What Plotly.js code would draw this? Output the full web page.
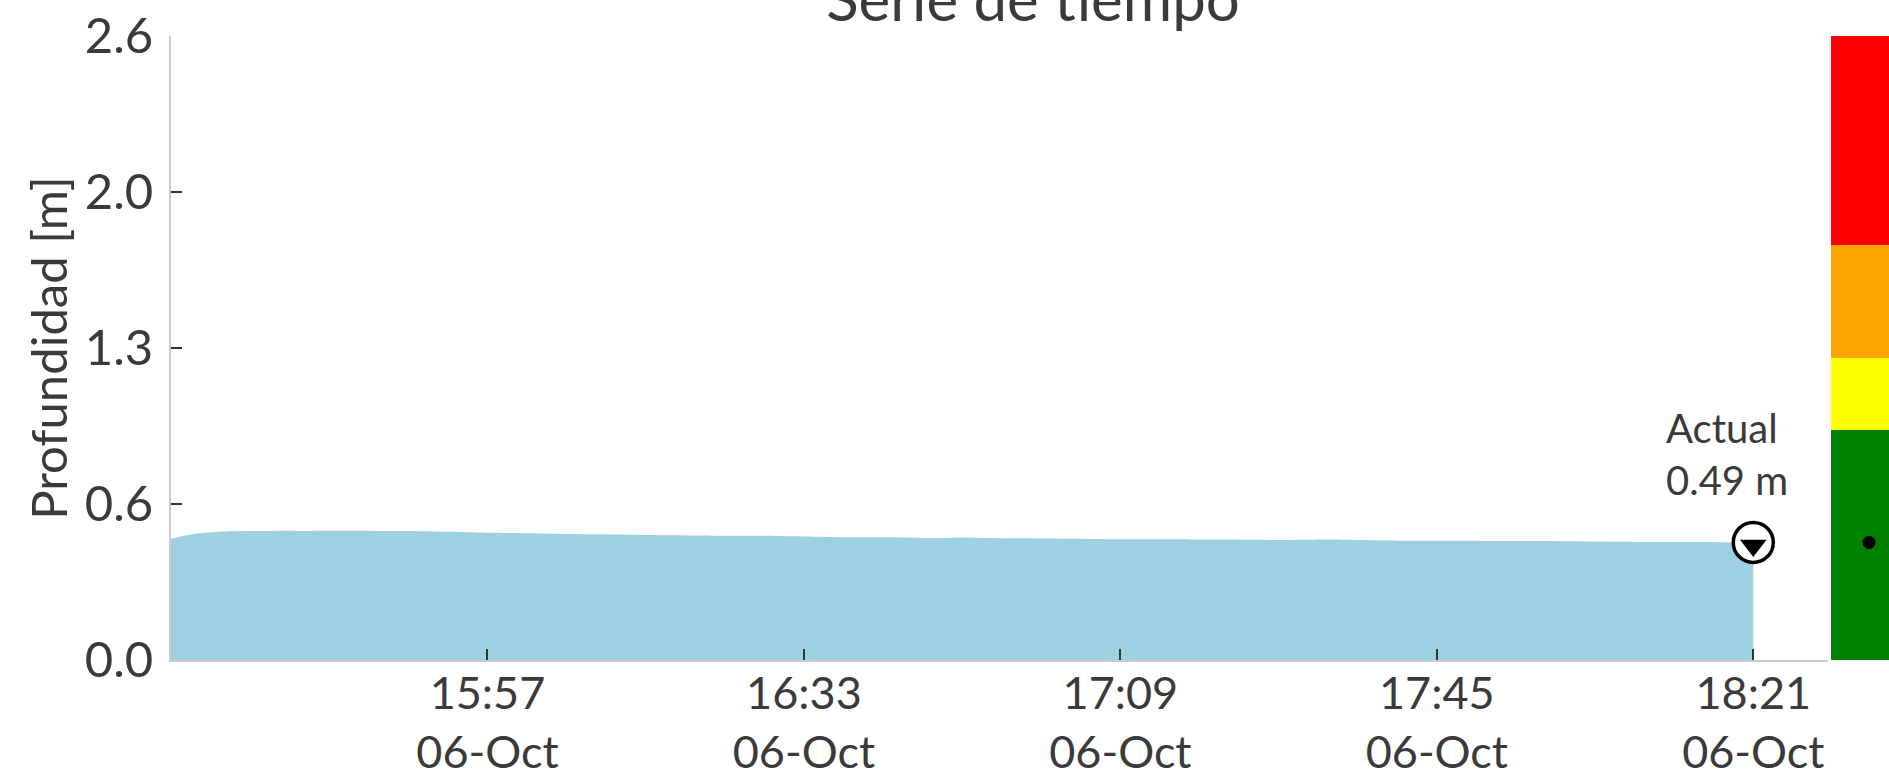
<!DOCTYPE html>
<html>
<head>
<meta charset="utf-8">
<script src="https://cdn.plot.ly/plotly-3.0.1.min.js"></script>
<style>
html,body{margin:0;padding:0;background:#fff;overflow:hidden;}
#chart{width:1889px;height:781px;}
</style>
</head>
<body>
<div id="chart"></div>
<script>
// ---- data ----
const day = '2023-10-06';
const times = ['15:21','15:23','15:25','15:27','15:30','15:33','15:36','15:39','15:42','15:45','15:48','15:51','15:54',
  '15:57','16:00','16:03','16:06','16:09','16:12','16:15','16:18','16:21','16:24','16:27','16:30',
  '16:33','16:36','16:39','16:42','16:45','16:48','16:51','16:54','16:57','17:00','17:03','17:06',
  '17:09','17:12','17:15','17:18','17:21','17:24','17:27','17:30','17:33','17:36','17:39','17:42',
  '17:45','17:48','17:51','17:54','17:57','18:00','18:03','18:06','18:09','18:12','18:15','18:18','18:21'];
const depth = [0.505,0.522,0.530,0.535,0.537,0.538,0.538,0.539,0.539,0.538,0.537,0.535,0.533,
  0.530,0.529,0.527,0.525,0.524,0.523,0.521,0.520,0.519,0.518,0.518,0.517,
  0.515,0.513,0.511,0.511,0.510,0.507,0.510,0.508,0.507,0.506,0.505,0.504,
  0.503,0.503,0.503,0.502,0.502,0.501,0.500,0.501,0.502,0.500,0.498,0.497,
  0.497,0.497,0.496,0.496,0.496,0.495,0.494,0.493,0.492,0.492,0.492,0.491,0.490];
const currentTime = '18:21';
const currentDepth = 0.49;
const levelNames = ['Normal','Precaución','Alerta','Peligro'];
const levelTops = [0.96, 1.26, 1.73, 2.6];
const levelColors = ['#008000','#ffff00','#ffa500','#ff0000'];
const yTickVals = [0, 0.65, 1.3, 1.95, 2.6];
const yTickText = ['0.0','0.6','1.3','2.0','2.6'];
const xTickTimes = ['15:57','16:33','17:09','17:45','18:21'];
const xTickDate = '06-Oct';
const xRange = ['15:21:00','18:29:30'];

// ---- build ----
const ts = t => day + ' ' + (t.length === 5 ? t + ':00' : t);
const FONT = 'Lato, "Open Sans", sans-serif';
const TXT = '#3a3a3a';

const traces = [];
traces.push({
  x: times.map(ts), y: depth, type: 'scatter', mode: 'lines',
  fill: 'tozeroy', fillcolor: '#9dd0e0', line: {width: 0, color: '#9dd0e0', shape: 'spline', smoothing: 0.6},
  xaxis: 'x', yaxis: 'y', hoverinfo: 'skip'
});
traces.push({
  x: [ts(currentTime)], y: [currentDepth], type: 'scatter', mode: 'markers',
  marker: {symbol: 'circle', size: 40, color: '#ffffff', line: {color: '#000', width: 3.5}},
  xaxis: 'x', yaxis: 'y', cliponaxis: false, hoverinfo: 'skip'
});
traces.push({
  x: [ts(currentTime)], y: [currentDepth - 0.013], type: 'scatter', mode: 'markers',
  marker: {symbol: 'triangle-down', size: 23, color: '#000', line: {width: 0}},
  xaxis: 'x', yaxis: 'y', cliponaxis: false, hoverinfo: 'skip'
});
let prev = 0;
levelTops.forEach((top, i) => {
  traces.push({
    x: [0], y: [top - prev], type: 'bar', name: levelNames[i],
    marker: {color: levelColors[i], line: {width: 0}},
    xaxis: 'x2', yaxis: 'y', width: 1, hoverinfo: 'skip'
  });
  prev = top;
});
traces.push({
  x: [0], y: [currentDepth], type: 'scatter', mode: 'markers',
  marker: {symbol: 'circle', size: 13, color: '#000'},
  xaxis: 'x2', yaxis: 'y', hoverinfo: 'skip'
});

const L = 171, W = 1889;
const pw = W - L;
const layout = {
  width: 1889, height: 781,
  margin: {l: L, r: 0, t: 36, b: 121, pad: 0},
  paper_bgcolor: '#fff', plot_bgcolor: '#fff',
  showlegend: false, barmode: 'stack', bargap: 0,
  font: {family: FONT, color: TXT, size: 46},
  title: {text: 'Serie de tiempo', font: {family: FONT, size: 60, color: TXT},
    x: (1033 - L) / pw, xref: 'paper', xanchor: 'center', y: 1, yref: 'container', yanchor: 'middle'},
  xaxis: {
    type: 'date', domain: [0, (1828 - L) / pw],
    range: xRange.map(ts),
    tickvals: xTickTimes.map(ts),
    ticktext: xTickTimes.map(t => t + '<br>' + xTickDate),
    ticks: 'inside', ticklen: 11, tickwidth: 2, tickcolor: '#333',
    showline: true, linecolor: '#cccccc', linewidth: 2,
    showgrid: false, zeroline: false, ticklabelstandoff: -7, automargin: false,
    tickfont: {family: FONT, size: 45, color: TXT}
  },
  xaxis2: {
    domain: [(1831 - L) / pw, 1], anchor: 'y',
    range: [-0.5, 0.263], showline: false, showgrid: false, zeroline: false,
    showticklabels: false, ticks: ''
  },
  yaxis: {
    range: [0, 2.6], tickvals: yTickVals, ticktext: yTickText,
    ticks: 'inside', ticklen: 11, tickwidth: 2, tickcolor: '#333',
    showline: true, linecolor: '#cccccc', linewidth: 2,
    showgrid: false, zeroline: false, ticklabelstandoff: 6, automargin: true,
    tickfont: {family: FONT, size: 49, color: TXT},
    title: {text: 'Profundidad [m]', font: {family: FONT, size: 49, color: TXT}, standoff: 2}
  },
  annotations: [{
    x: ts(currentTime), y: currentDepth, xref: 'x', yref: 'y',
    text: 'Actual<br>0.49 m', showarrow: false, align: 'left',
    xanchor: 'left', yanchor: 'bottom', xshift: -89, yshift: 36,
    font: {family: FONT, size: 40, color: TXT}
  }]
};

Plotly.newPlot('chart', traces, layout, {displayModeBar: false, staticPlot: true});
</script>
</body>
</html>
